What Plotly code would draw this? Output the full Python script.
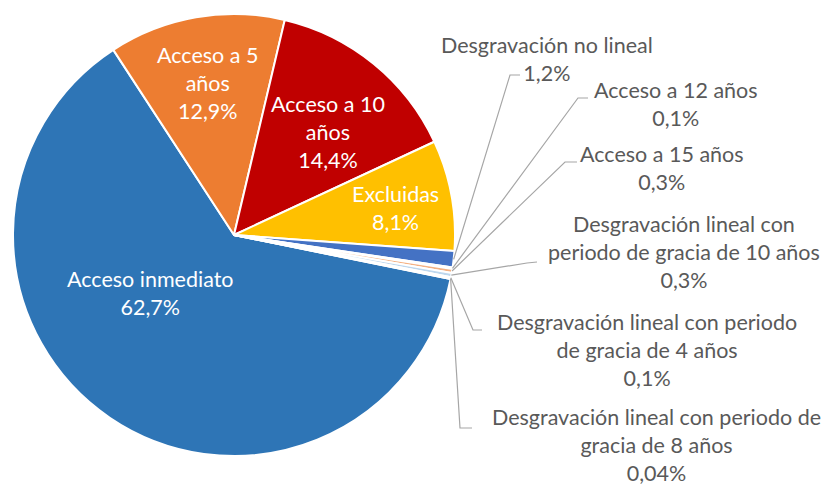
import numpy as np
import plotly.graph_objects as go

# datos
labels = ['Acceso inmediato', 'Acceso a 5 años', 'Acceso a 10 años', 'Excluidas',
          'Desgravación no lineal', 'Acceso a 12 años', 'Acceso a 15 años',
          'Desgravación lineal con periodo de gracia de 10 años',
          'Desgravación lineal con periodo de gracia de 4 años',
          'Desgravación lineal con periodo de gracia de 8 años']
values = [62.7, 12.9, 14.4, 8.1, 1.2, 0.1, 0.3, 0.3, 0.1, 0.04]
colors = ['#2E75B6', '#ED7D31', '#C00000', '#FFC000', '#4472C4',
          '#9DC3E6', '#F4B183', '#BDD7EE', '#F8CBAD', '#DEEBF7']
# texto de las etiquetas (con saltos de línea)
label_lines = ['Acceso inmediato', 'Acceso a 5<br>años', 'Acceso a 10<br>años', 'Excluidas',
               'Desgravación no lineal', 'Acceso a 12 años', 'Acceso a 15 años',
               'Desgravación lineal con<br>periodo de gracia de 10 años',
               'Desgravación lineal con periodo<br>de gracia de 4 años',
               'Desgravación lineal con periodo de<br>gracia de 8 años']

W, H = 833, 485
OFF = 8                      # margen del body de la página
CX, CY, R = 234, 235, 221    # centro y radio del pie en px (pantalla)
ROT = 101.5

# posiciones de etiquetas (px) y codos de las líneas guía
label_pos = [(150, 293), (207, 83), (328, 132), (395, 208),
             (547, 59), (676, 104), (662, 168), (684, 252), (647, 350), (656, 445)]
leader = {4: [(520, 75), (510, 75)], 5: [(588, 98), (578, 98)], 6: [(577, 162), (565, 162)],
          7: [(537, 262), (527, 263)], 8: [(482, 330), (473, 330)], 9: [(472, 428), (460, 428)]}

def px2paper(x, y):
    return (x - OFF) / W, 1 - (y - OFF) / H

x0, y1 = px2paper(CX - R, CY - R)
x1, y0 = px2paper(CX + R, CY + R)
fig = go.Figure(go.Pie(
    labels=labels, values=values, sort=False, direction='clockwise', rotation=ROT,
    marker=dict(colors=colors, line=dict(color='white', width=2)),
    textinfo='none', hoverinfo='label+percent', showlegend=False,
    domain=dict(x=[x0, x1], y=[y0, y1]),
))

fmt = lambda v: str(v).replace('.', ',') + '%'
total = sum(values)
ang = ROT
annotations, shapes = [], []
for i, (lab, v) in enumerate(zip(label_lines, values)):
    span = v / total * 360
    mid = np.radians(ang + span / 2)
    ang += span
    x, y = px2paper(*label_pos[i])
    inside = i < 4
    annotations.append(dict(
        x=x, y=y, xref='paper', yref='paper', showarrow=False,
        xanchor='center', yanchor='middle',
        text=lab + '<br>' + fmt(v), align='center',
        font=dict(color='white' if inside else '#595959', size=21.5)))
    if i in leader:
        ex, ey = CX + R * np.sin(mid), CY - R * np.cos(mid)
        pts = leader[i] + [(ex, ey)]
        path = 'M ' + ' L '.join('%f %f' % px2paper(a, b) for a, b in pts)
        shapes.append(dict(type='path', path=path, xref='paper', yref='paper',
                           line=dict(color='#A6A6A6', width=1.2)))

fig.update_layout(
    width=W, height=H, margin=dict(l=0, r=0, t=0, b=0),
    paper_bgcolor='white', plot_bgcolor='white',
    font=dict(family='Lato, sans-serif'),
    annotations=annotations, shapes=shapes,
)
fig.write_html('out.html')
